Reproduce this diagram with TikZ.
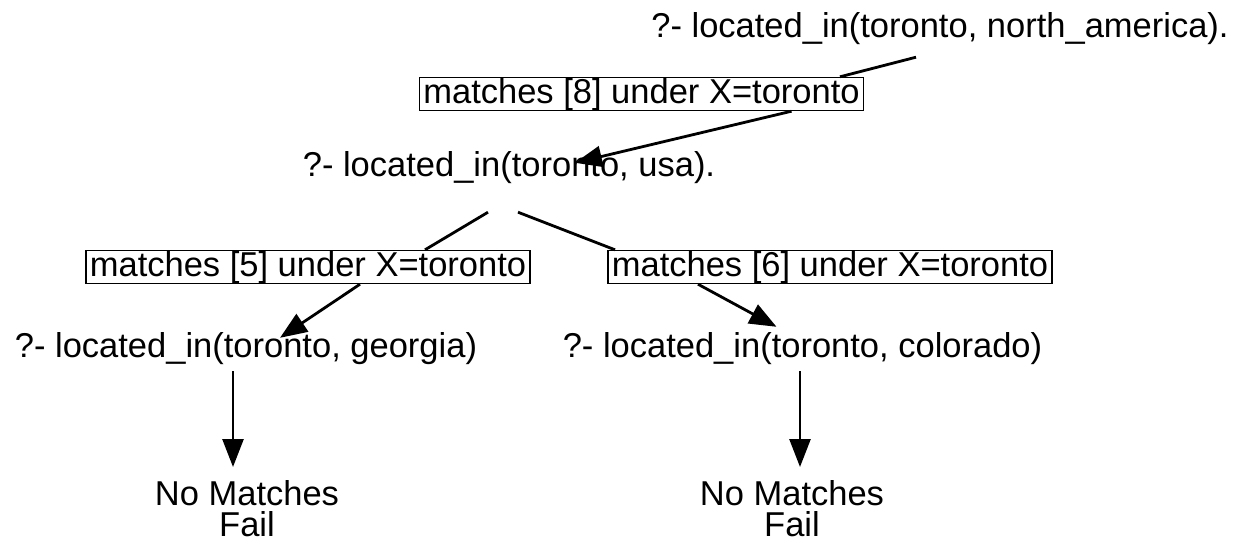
\documentclass[tikz,border=0pt]{standalone}
\usepackage{fontspec}
\setmainfont{Liberation Sans}
\usetikzlibrary{arrows.meta,calc}
\begin{document}
\begin{tikzpicture}[x=1pt,y=-1pt,
  font=\fontsize{34.5}{31}\selectfont,
  goal/.style={inner sep=0pt, text height=25pt, text depth=7pt, anchor=base},
  rule/.style={draw, line width=1.4pt, inner xsep=4pt, inner ysep=0.5pt, text height=25pt, text depth=7pt},
  res/.style={inner sep=0pt, align=center, anchor=north},
  link/.style={line width=2.8pt},
  arr/.style={line width=2.8pt, -{Triangle[length=27pt,width=21pt]}},
  varr/.style={line width=2.6pt, -{Triangle[length=28pt,width=21pt]}}]
\useasboundingbox (0,0) rectangle (1242,541);
\node[goal] (top) at (940,37) {?- located\_in(toronto, north\_america).};
\node[rule] (b8) at (641.5,94) {matches [8] under X=toronto};
\node[goal] (usa) at (509,176) {?- located\_in(toronto, usa).};
\node[rule] (b5) at (308,267) {matches [5] under X=toronto};
\node[rule] (b6) at (830,267) {matches [6] under X=toronto};
\node[goal] (geo) at (246,357) {?- located\_in(toronto, georgia)};
\node[goal] (col) at (802.5,357) {?- located\_in(toronto, colorado)};
\node[res] (f1) at (247,480) {No Matches\\Fail};
\node[res] (f2) at (792,480) {No Matches\\Fail};
\draw[link] ($(top.south)+(-24,13)$) -- ($(b8.north)+(198.5,0)$);
\draw[arr] ($(b8.south)+(150,0)$) -- ($(usa.north)+(66,12)$);
\draw[link] ($(usa.south)+(-21,29)$) -- ($(b5.north)+(117,0)$);
\draw[link] ($(usa.south)+(9,29)$) -- ($(b6.north)+(-215,0)$);
\draw[arr] ($(b5.south)+(52,0)$) -- ($(geo.north)+(34,6)$);
\draw[arr] ($(b6.south)+(-132,0)$) -- ($(col.north)+(-26,-5)$);
\draw[varr] ($(geo.south)+(-13,7)$) -- ($(f1.north)+(-14,-13)$);
\draw[varr] ($(col.south)+(-2.5,7)$) -- ($(f2.north)+(8,-13)$);
\end{tikzpicture}
\end{document}
